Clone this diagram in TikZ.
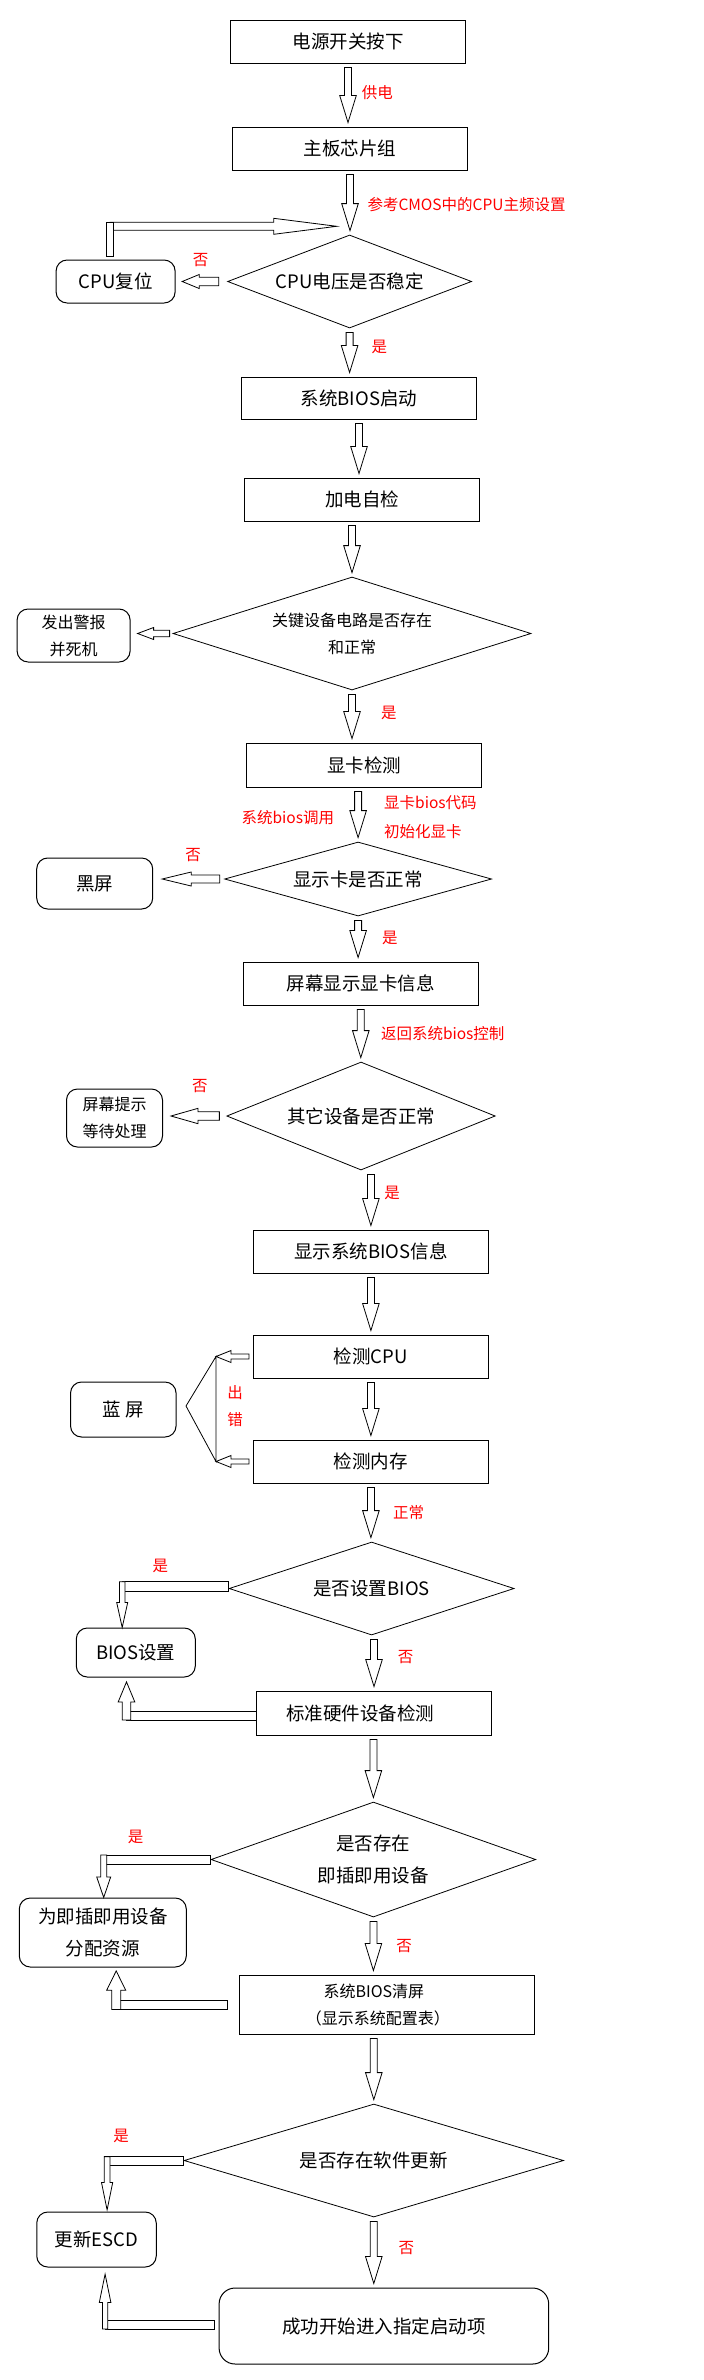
\documentclass[tikz,border=0pt]{standalone}
\usepackage{fontspec}
\setmainfont{Noto Sans CJK SC}
\usetikzlibrary{shapes.geometric, calc}
\definecolor{lblred}{HTML}{FF0000}
\newcommand{\stepfont}{\fontsize{18.5}{32}\selectfont}
\newcommand{\notefont}{\fontsize{16}{27}\selectfont}
\newcommand{\lblfont}{\fontsize{15.5}{29}\selectfont}
\tikzset{
  shaft wid/.store in=\shaftw, shaft wid=3.5pt,
  head len/.store in=\headl,   head len=27pt,
  head wid/.store in=\headw,   head wid=8.3pt,
  sgap/.store in=\sgapl,       sgap=4pt,
  egap/.store in=\egapl,       egap=4pt,
  stepbox/.style  = {rectangle, draw, line width=1pt, minimum width=235pt,
                     minimum height=43pt, inner sep=0pt, align=center, font=\stepfont},
  sidebox/.style  = {rectangle, rounded corners=11pt, draw, line width=1pt,
                     inner sep=0pt, align=center, font=\stepfont},
  decision/.style = {diamond, aspect=3, draw, line width=0.8pt, inner sep=0pt,
                     align=center, font=\stepfont},
  lbl/.style      = {text=lblred, font=\lblfont, inner sep=0pt, align=left},
  thinline/.style = {line width=0.8pt},
  hollow/.style   = {draw, line width=0.8pt, fill=white, line join=miter,
    to path={let \p1=($(\tikztostart)!\sgapl!(\tikztotarget)$),
                 \p2=($(\tikztotarget)!\egapl!(\tikztostart)$),
                 \p3=($(\p2)!\headl!(\p1)$) in
      ($(\p1)!\shaftw!90:(\p2)$) -- ($(\p3)!\shaftw!-90:(\p1)$)
      -- ($(\p3)!\headw!-90:(\p1)$) -- (\p2)
      -- ($(\p3)!\headw!90:(\p1)$) -- ($(\p3)!\shaftw!90:(\p1)$)
      -- ($(\p1)!\shaftw!-90:(\p2)$) -- cycle}},
  sidearrow/.style = {hollow, shaft wid=4pt, head len=17pt, head wid=7pt, sgap=7pt, egap=7pt},
  bar/.style      = {draw, line width=0.8pt, fill=white,
    to path={($(\tikztostart)!\shaftw!90:(\tikztotarget)$)
      -- ($(\tikztotarget)!\shaftw!-90:(\tikztostart)$)
      -- ($(\tikztotarget)!\shaftw!90:(\tikztostart)$)
      -- ($(\tikztostart)!\shaftw!-90:(\tikztotarget)$) -- cycle}},
}

\begin{document}
\begin{tikzpicture}[x=1pt, y=1pt]
  \fill[white] (0,0) rectangle (704,-2380);
  \useasboundingbox (0,0) rectangle (704,-2380);

  % main column
  \node[stepbox] (pwr) at (348,-41.5) {电源开关按下};
  \node[stepbox] (chip) at (350,-148.5) {主板芯片组};
  \node[decision, minimum width=244pt, minimum height=93pt]
    (cpuv) at (349.6,-281.5) {CPU电压是否稳定};
  \node[stepbox, minimum height=42pt] (bios) at (359,-398) {系统BIOS启动};
  \node[stepbox] (post) at (362,-499.5) {加电自检};
  \node[decision, minimum width=358pt, minimum height=113pt, font=\notefont]
    (keydev) at (352,-633.5) {关键设备电路是否存在\\和正常};
  \node[stepbox, minimum height=44pt] (vga) at (364,-765) {显卡检测};
  \node[decision, minimum width=267pt, minimum height=74pt]
    (vgaok) at (358.1,-879) {显示卡是否正常};
  \node[stepbox] (vgainfo) at (360.8,-983.5) {屏幕显示显卡信息};
  \node[decision, minimum width=268.5pt, minimum height=108pt]
    (devok) at (361,-1116) {其它设备是否正常};
  \node[stepbox] (biosinfo) at (370.9,-1251.5) {显示系统BIOS信息};
  \node[stepbox] (cpuchk) at (370.9,-1356.5) {检测CPU};
  \node[stepbox] (memchk) at (370.9,-1461.5) {检测内存};
  \node[decision, minimum width=285pt, minimum height=93pt]
    (setbios) at (371.6,-1588.5) {是否设置BIOS};
  \node[stepbox, minimum height=44pt] (hwchk) at (374,-1713) {标准硬件设备检测\hspace*{28pt}};
  \node[decision, minimum width=324.7pt, minimum height=115pt]
    (pnp) at (373.4,-1859.5) {是否存在\\即插即用设备};
  \node[stepbox, minimum width=295pt, minimum height=59pt, font=\notefont]
    (clrscr) at (386.9,-2004.5) {系统BIOS清屏\hspace*{26pt}\\（显示系统配置表）\hspace*{18pt}};
  \node[decision, minimum width=379.5pt, minimum height=113pt]
    (swupd) at (373.8,-2160.5) {是否存在软件更新};
  \node[stepbox, rounded corners=16pt, minimum width=329.6pt, minimum height=76pt]
    (boot) at (383.9,-2326) {成功开始进入指定启动项};

  % side boxes
  \node[sidebox, minimum width=119pt, minimum height=43pt] (cpurst) at (115.6,-281.5) {CPU复位};
  \node[sidebox, minimum width=113pt, minimum height=53pt, font=\notefont]
    (alarm) at (73.6,-635.5) {发出警报\\并死机};
  \node[sidebox, minimum width=116pt, minimum height=51pt] (black) at (94.7,-883.5) {黑屏};
  \node[sidebox, minimum width=96pt, minimum height=58pt, font=\notefont]
    (wait) at (114.5,-1118) {屏幕提示\\等待处理};
  \node[sidebox, minimum width=105.5pt, minimum height=55pt] (blue) at (123.3,-1409.5) {蓝 屏};
  \node[sidebox, minimum width=119pt, minimum height=49pt] (biosset) at (135.8,-1652.5) {BIOS设置};
  \node[sidebox, minimum width=167pt, minimum height=69pt]
    (alloc) at (102.8,-1932.5) {为即插即用设备\\分配资源};
  \node[sidebox, minimum width=119.5pt, minimum height=55pt] (escd) at (96.5,-2239.5) {更新ESCD};

  % main arrows
  \draw[hollow] (pwr.south) to (pwr.south |- chip.north);
  \draw[hollow] (chip.south) to (chip.south |- cpuv.north);
  \draw[hollow] (cpuv.south) to (cpuv.south |- bios.north);
  \draw[hollow] (bios.south) to (bios.south |- post.north);
  \draw[hollow] (keydev.north |- post.south) to (keydev.north);
  \draw[hollow] (keydev.south) to (keydev.south |- vga.north);
  \draw[hollow] (vgaok.north |- vga.south) to (vgaok.north);
  \draw[hollow] (vgaok.south) to (vgaok.south |- vgainfo.north);
  \draw[hollow] (vgainfo.south) to (vgainfo.south |- devok.north);
  \draw[hollow] (biosinfo.north |- devok.south) to (biosinfo.north);
  \draw[hollow] (biosinfo.south) to (biosinfo.south |- cpuchk.north);
  \draw[hollow] (cpuchk.south) to (cpuchk.south |- memchk.north);
  \draw[hollow] (memchk.south) to (memchk.south |- setbios.north);
  \draw[hollow] (hwchk.north |- setbios.south) to (hwchk.north);
  \draw[hollow] (pnp.north |- hwchk.south) to (pnp.north);
  \draw[hollow] (pnp.south) to (pnp.south |- clrscr.north);
  \draw[hollow] (swupd.north |- clrscr.south) to (swupd.north);
  \draw[hollow] (swupd.south) to (swupd.south |- boot.north);

  % "no" branches
  \draw[sidearrow, sgap=8.4pt, egap=6.6pt, shaft wid=4.2pt] (cpuv.west) to (cpuv.west -| cpurst.east);
  \draw[sidearrow, sgap=3pt, head len=16pt, head wid=6pt, shaft wid=3.3pt]
    (keydev.west) to (keydev.west -| alarm.east);
  \draw[sidearrow, sgap=4.5pt, egap=9pt, head len=29pt] (vgaok.west) to (vgaok.west -| black.east);
  \draw[sidearrow, egap=8pt, head len=27pt, head wid=7.7pt, shaft wid=4.2pt]
    (devok.west) to (devok.west -| wait.east);

  % error bracket
  \coordinate (errtop) at (216,-1356.5);
  \coordinate (errbot) at (216,-1461.5);
  \coordinate (errtip) at (186,-1406);
  \draw[thinline] (errtop) -- (errbot) -- (errtip) -- cycle;
  \draw[hollow, shaft wid=2.5pt, head wid=6pt, head len=15pt, egap=0pt]
    (cpuchk.west) to (cpuchk.west -| errtop);
  \draw[hollow, shaft wid=2.5pt, head wid=6pt, head len=15pt, egap=0pt]
    (memchk.west) to (memchk.west -| errbot);

  % feedback to the cpu voltage test
  \coordinate (fbknee) at (110,-226.3);
  \coordinate (fbend) at (336.7,-226.3);
  \draw[hollow, sgap=0pt, egap=0pt, shaft wid=4pt, head wid=8pt, head len=63pt] (fbknee) to (fbend);
  \draw[bar, shaft wid=3.3pt] ($(cpurst.north -| fbknee)+(0,3)$) to ([yshift=4pt]fbknee);

  % bios setup
  \coordinate (k1) at (122.2,-1586.7);
  \draw[bar, shaft wid=5pt] (setbios.west |- k1) to (k1);
  \draw[hollow, shaft wid=2.8pt, head wid=5.5pt, head len=25pt, sgap=0pt, egap=0pt]
    ([yshift=5pt]k1) to (k1 |- biosset.north);
  \coordinate (k2) at (126.5,-1715.8);
  \draw[bar, shaft wid=4.2pt] (hwchk.west |- k2) to (k2);
  \draw[hollow, shaft wid=4.2pt, head wid=8.3pt, head len=20pt, sgap=0pt, egap=4.4pt]
    ([yshift=-4.2pt]k2) to (k2 |- biosset.south);

  % plug and play
  \coordinate (k3) at (103.7,-1859.7);
  \draw[bar, shaft wid=4.7pt] (pnp.west |- k3) to (k3);
  \draw[hollow, shaft wid=3pt, head wid=7pt, head len=20.6pt, sgap=0pt, egap=0pt]
    ([yshift=4.7pt]k3) to (k3 |- alloc.north);
  \coordinate (k4) at (116.2,-2004.7);
  \coordinate (k4end) at (227.3,-2004.7);
  \draw[bar, shaft wid=4.7pt] (k4end) to (k4);
  \draw[hollow, shaft wid=4.5pt, head wid=9.5pt, head len=19.3pt, sgap=0pt, egap=3.4pt]
    ([yshift=-4.7pt]k4) to (k4 |- alloc.south);

  % escd
  \coordinate (k5) at (107.1,-2160.8);
  \draw[bar, shaft wid=4.2pt] (swupd.west |- k5) to (k5);
  \draw[hollow, shaft wid=2.9pt, head wid=5.6pt, head len=27.4pt, sgap=0pt, egap=1.6pt]
    ([yshift=4.2pt]k5) to (k5 |- escd.north);
  \coordinate (k6) at (105.1,-2324.8);
  \coordinate (k6end) at (214.6,-2324.8);
  \draw[bar, shaft wid=4.2pt] (k6end) to (k6);
  \draw[hollow, shaft wid=2.7pt, head wid=5.8pt, head len=28.4pt, sgap=0pt, egap=6.6pt]
    ([yshift=-4.2pt]k6) to (k6 |- escd.south);

  % red labels
  \node[lbl, anchor=west] (l1) at (361.7,-93) {供电};
  \node[lbl, anchor=west] (l2) at (367.3,-205) {参考CMOS中的CPU主频设置};
  \node[lbl] (l3) at (200.7,-260) {否};
  \node[lbl] (l4) at (379.4,-347) {是};
  \node[lbl] (l5) at (388.9,-713) {是};
  \node[lbl] (l6) at (287.8,-818) {系统bios调用};
  \node[lbl, anchor=west] (l7) at (384,-817.5) {显卡bios代码\\初始化显卡};
  \node[lbl] (l8) at (193,-855) {否};
  \node[lbl] (l9) at (389.8,-938) {是};
  \node[lbl, anchor=west] (l10) at (380.8,-1034) {返回系统bios控制};
  \node[lbl] (l11) at (199.8,-1086) {否};
  \node[lbl] (l12) at (392,-1193) {是};
  \node[lbl, align=center, font=\fontsize{15.5}{26.5}\selectfont] (l13) at (235,-1406.3) {出\\错};
  \node[lbl] (l14) at (408.5,-1513) {正常};
  \node[lbl] (l15) at (160.3,-1566) {是};
  \node[lbl] (l16) at (405.5,-1657) {否};
  \node[lbl] (l17) at (135.6,-1837) {是};
  \node[lbl] (l18) at (404,-1946) {否};
  \node[lbl] (l19) at (121.2,-2136) {是};
  \node[lbl] (l20) at (406.4,-2248) {否};
\end{tikzpicture}
\end{document}
